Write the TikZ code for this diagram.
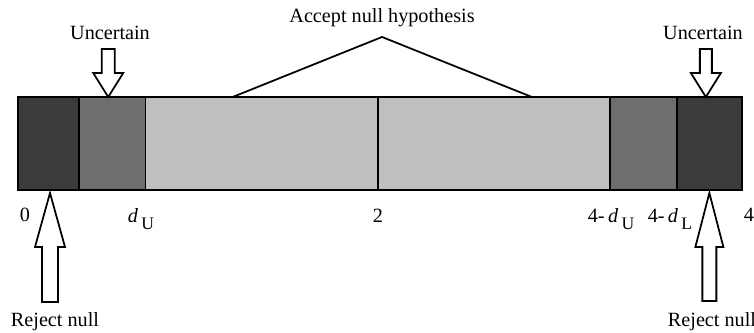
\documentclass[tikz,border=0pt]{standalone}
\usepackage{fontspec}
\setmainfont{Liberation Serif}
\usetikzlibrary{positioning}
\definecolor{darkgr}{gray}{0.23}
\definecolor{midgr}{gray}{0.43}
\definecolor{lightgr}{gray}{0.75}

\begin{document}
\begin{tikzpicture}[x=0.02cm,y=-0.02cm,
    seg/.style={draw=black,line width=1pt,minimum height=1.86cm,inner sep=0pt,outer sep=0pt},
    blk/.style={draw=black,line width=1pt,fill=white,line join=miter},
    lbl/.style={font=\fontsize{11.5}{13}\selectfont,inner sep=1pt},
    sub/.style={font=\fontsize{10}{12}\selectfont}]
            \useasboundingbox (0,0) rectangle (754,333);
            % the bar
            \node[seg,fill=darkgr,minimum width=1.22cm] (r1) at (48.5,143.5) {};
            \node[seg,fill=midgr,minimum width=1.33cm,right=0pt of r1] (u1) {};
            \node[seg,fill=lightgr,minimum width=4.65cm,right=0pt of u1] (a1) {};
            \node[seg,fill=lightgr,minimum width=4.64cm,right=0pt of a1] (a2) {};
            \node[seg,fill=midgr,minimum width=1.34cm,right=0pt of a2] (u2) {};
            \node[seg,fill=darkgr,minimum width=1.3cm,right=0pt of u2] (r2) {};

            % accept region
            \node[lbl] (acc) at (382,18) {Accept null hypothesis};
            \coordinate (apex) at (382,37);
            \coordinate (la) at ([xshift=-0.58cm]a1.north);
            \coordinate (ra) at ([xshift=0.76cm]a2.north);
            \draw[line width=1pt] (la)--(apex)--(ra);

            % uncertain arrows
            \node[lbl] (unc1) at (110,33) {Uncertain};
            \node[lbl] (unc2) at (703,33) {Uncertain};
            \draw[blk] ([xshift=-0.08cm]u1.north) -- +(-15,-24) -- +(-6.5,-24) -- +(-6.5,-48)
                -- +(6.5,-48) -- +(6.5,-24) -- +(15,-24) -- cycle;
            \draw[blk] ([xshift=-0.07cm]r2.north) -- +(-15,-24) -- +(-6,-24) -- +(-6,-48)
                -- +(6,-48) -- +(6,-24) -- +(15,-24) -- cycle;

            % reject arrows
            \node[lbl] (rej1) at (55,322) {Reject null};
            \node[lbl] (rej2) at (712,322) {Reject null};
            \draw[blk] ([xshift=0.03cm,yshift=-0.06cm]r1.south) -- +(-15,54) -- +(-8,54) -- +(-8,109)
                -- +(8,109) -- +(8,54) -- +(15,54) -- cycle;
            \draw[blk] ([yshift=-0.06cm]r2.south) -- +(-14,54) -- +(-7,54) -- +(-7,108)
                -- +(7,108) -- +(7,54) -- +(14,54) -- cycle;

            % axis labels
            \node[lbl] (t0) at (25,215) {0};
            \node[lbl] (tdu) at (141,219) {\textit{d}\,\raisebox{-0.8ex}{\fontsize{10}{12}\selectfont U}};
            \node[lbl] (t2) at (378,216) {2};
            \node[lbl] (t4du) at (611,219) {4-\,\textit{d}\,\raisebox{-0.8ex}{\fontsize{10}{12}\selectfont U}};
            \node[lbl] (t4dl) at (670,219) {4-\,\textit{d}\,\raisebox{-0.8ex}{\fontsize{10}{12}\selectfont L}};
            \node[lbl] (t4) at (749,215) {4};
        \end{tikzpicture}
\end{document}
